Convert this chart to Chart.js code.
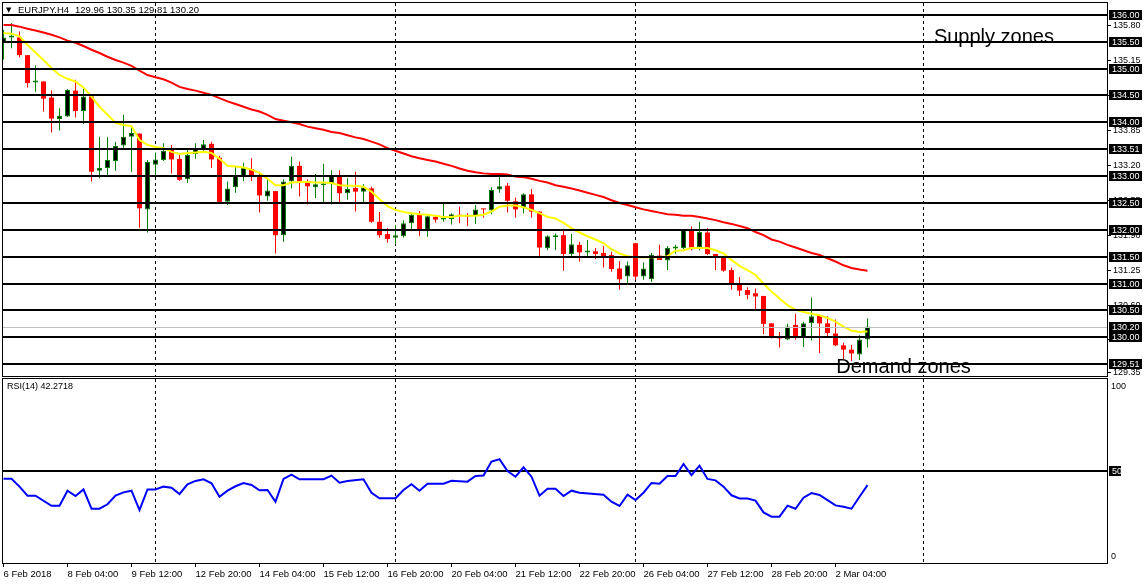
<!DOCTYPE html>
<html><head><meta charset="utf-8">
<script src="https://cdn.jsdelivr.net/npm/chart.js@4.4.1/dist/chart.umd.min.js"></script>
<style>
html,body{margin:0;padding:0;background:#fff;overflow:hidden;}
#wrap{position:relative;width:1147px;height:585px;background:#fff;}
#main{position:absolute;left:0;top:0;}
#rsi{position:absolute;left:0;top:378px;}
</style></head><body>
<div id="wrap"><canvas id="main" width="1147" height="378"></canvas><canvas id="rsi" width="1147" height="207"></canvas></div>
<script>
// ---- data (H4 bars, first bar = 6 Feb 2018 20:00) ----
const opens = [
135.48,135.58,135.58,135.25,134.74,134.76,134.46,134.06,134.11,134.59,
134.21,134.48,133.10,133.15,133.28,133.57,133.73,133.79,132.38,133.21,
133.30,133.49,133.32,132.94,133.41,133.50,133.60,133.34,132.52,132.79,
132.98,133.13,133.00,132.62,132.72,131.90,132.90,133.19,132.90,132.79,
132.83,132.85,133.01,132.68,132.78,132.71,132.77,132.15,131.92,131.85,
131.88,132.12,132.29,132.00,132.24,132.19,132.20,132.27,132.27,132.25,
132.39,132.36,132.75,132.82,132.53,132.40,132.66,132.34,131.66,131.86,
131.90,131.55,131.72,131.58,131.60,131.57,131.53,131.28,131.13,131.75,
131.13,131.08,131.52,131.43,131.65,131.66,132.01,131.67,131.95,131.55,
131.49,131.25,130.99,130.88,130.82,130.77,130.26,130.02,129.96,130.23,
129.99,130.26,130.40,130.26,130.07,129.85,129.77,129.68,129.96];
const highs = [
135.72,135.85,135.69,135.25,135.06,134.76,134.59,134.26,134.62,134.79,
134.62,134.48,133.73,133.72,133.64,134.14,133.92,133.79,133.30,133.44,
133.61,133.58,133.39,133.50,133.61,133.67,133.64,133.38,132.90,133.18,
133.25,133.33,133.07,132.94,132.72,132.94,133.36,133.27,132.94,133.04,
133.23,133.11,133.11,132.96,133.08,132.85,132.80,132.33,132.03,132.09,
132.18,132.33,132.35,132.28,132.28,132.48,132.31,132.43,132.31,132.46,
132.39,132.79,133.04,132.87,132.60,132.68,132.76,132.34,131.90,131.93,
131.99,131.92,131.78,131.81,131.66,131.70,131.59,131.42,131.41,131.76,
131.39,131.57,131.72,131.70,131.72,132.01,132.06,132.15,132.03,131.55,
131.51,131.30,131.12,130.93,130.91,130.77,130.26,130.10,130.25,130.44,
130.29,130.74,130.41,130.39,130.33,129.90,129.86,130.04,130.35];
const lows = [
135.17,135.38,135.21,134.65,134.57,134.20,133.81,133.85,134.10,134.09,
133.97,132.90,132.96,132.99,133.10,133.49,133.08,132.04,131.95,132.99,
133.28,133.05,132.91,132.87,133.32,133.44,133.15,132.49,132.46,132.69,
132.91,132.91,132.32,132.54,131.56,131.78,132.77,132.62,132.47,132.59,
132.51,132.47,132.51,132.56,132.34,132.51,132.13,131.85,131.76,131.74,
131.85,132.00,131.88,131.87,132.13,132.15,132.10,132.12,132.07,132.11,
132.23,132.29,132.69,132.32,132.23,132.31,132.23,131.51,131.62,131.62,
131.24,131.51,131.41,131.49,131.45,131.30,131.22,130.89,130.99,131.07,
131.07,131.03,131.44,131.25,131.56,131.64,131.62,131.62,131.53,131.25,
131.22,130.89,130.77,130.71,130.52,130.06,129.98,129.81,129.95,129.96,
129.82,129.94,129.71,130.02,129.84,129.59,129.56,129.58,129.81];
const closes = [
135.58,135.59,135.25,134.73,134.75,134.44,134.07,134.12,134.60,134.21,
134.48,133.08,133.15,133.30,133.56,133.73,133.80,132.40,133.26,133.31,
133.47,133.31,132.93,133.39,133.51,133.59,133.31,132.52,132.77,133.00,
133.15,132.99,132.64,132.73,131.90,132.90,133.19,132.90,132.81,132.85,
132.84,133.00,132.68,132.76,132.71,132.79,132.15,131.90,131.83,131.90,
132.12,132.28,132.00,132.25,132.19,132.23,132.29,132.26,132.25,132.38,
132.38,132.74,132.81,132.54,132.38,132.66,132.34,131.67,131.88,131.90,
131.55,131.73,131.58,131.59,131.55,131.51,131.27,131.08,131.34,131.13,
131.28,131.54,131.44,131.66,131.66,132.00,131.67,131.96,131.55,131.49,
131.24,130.99,130.87,130.79,130.76,130.25,130.00,129.98,130.20,129.99,
130.26,130.39,130.26,130.08,129.85,129.77,129.70,129.96,130.20];
const maFast = [ // yellow
135.66,135.65,135.60,135.44,135.30,135.16,135.01,134.88,134.81,134.76,
134.65,134.48,134.29,134.14,133.99,133.95,133.93,133.67,133.58,133.54,
133.52,133.45,133.41,133.43,133.44,133.45,133.43,133.32,133.19,133.18,
133.16,133.12,133.06,132.95,132.83,132.83,132.88,132.89,132.89,132.88,
132.88,132.87,132.83,132.82,132.82,132.80,132.71,132.57,132.44,132.37,
132.33,132.31,132.29,132.28,132.26,132.24,132.24,132.26,132.26,132.26,
132.28,132.34,132.43,132.45,132.45,132.42,132.37,132.31,132.24,132.21,
132.13,132.03,131.95,131.88,131.82,131.75,131.64,131.56,131.51,131.49,
131.49,131.49,131.49,131.51,131.61,131.62,131.66,131.66,131.66,131.62,
131.56,131.44,131.33,131.25,131.16,131.00,130.85,130.72,130.60,130.51,
130.47,130.44,130.41,130.36,130.29,130.20,130.12,130.10,130.11];
const maSlow = [ // red
135.81,135.81,135.78,135.74,135.71,135.67,135.63,135.58,135.52,135.48,
135.42,135.35,135.29,135.22,135.16,135.11,135.05,134.96,134.88,134.84,
134.80,134.74,134.66,134.62,134.59,134.55,134.51,134.45,134.39,134.34,
134.29,134.24,134.20,134.14,134.06,134.03,134.00,133.97,133.92,133.89,
133.86,133.82,133.80,133.76,133.72,133.69,133.64,133.59,133.52,133.47,
133.42,133.37,133.33,133.30,133.27,133.23,133.19,133.14,133.10,133.07,
133.05,133.04,133.04,133.03,132.99,132.98,132.95,132.91,132.88,132.83,
132.80,132.77,132.73,132.69,132.65,132.61,132.55,132.50,132.46,132.42,
132.38,132.35,132.32,132.29,132.28,132.26,132.26,132.24,132.21,132.18,
132.14,132.11,132.07,132.03,131.96,131.90,131.82,131.78,131.72,131.67,
131.62,131.57,131.53,131.47,131.41,131.34,131.29,131.26,131.24];
const rsiBars = [0,1,2,3,4,6,7,8,9,10,11,12,13,14,15,16,17,18,19,20,21,22,23,24,25,26,27,28,29,30,31,32,33,34,35,36,37,40,41,42,43,45,46,47,49,50,51,52,53,55,56,58,59,60,61,62,63,64,65,66,67,68,69,70,71,72,75,76,77,78,79,80,81,82,83,84,85,86,87,88,89,90,91,92,93,94,95,96,97,98,99,100,101,102,103,104,105,106,107,108];
const rsiValues = [45.8,45.8,41.5,36.6,36.6,31.1,31.1,39.3,36.4,40.0,29.5,29.5,31.9,36.6,38.4,39.3,28.8,40.0,40.0,41.5,40.9,37.5,42.8,44.6,45.5,43.3,36.0,39.3,41.7,43.5,42.4,39.5,39.7,33.3,45.7,48.0,45.5,45.5,47.5,43.6,44.6,45.5,38.2,35.2,35.2,39.7,42.8,39.3,43.1,43.1,44.7,44.2,47.3,47.5,55.1,56.4,50.0,46.9,52.0,46.9,36.6,40.4,40.4,36.4,39.3,38.2,37.1,33.3,31.0,37.1,34.2,38.2,43.5,43.1,47.3,47.3,53.8,47.8,52.9,45.7,44.9,41.5,36.8,35.1,35.1,33.9,27.5,25.2,25.2,31.2,29.5,35.5,38.0,37.0,34.2,31.3,30.6,29.5,36.0,42.3];
const levelPrices = [136.00,135.50,135.00,134.50,134.00,133.51,133.00,132.50,132.00,131.50,131.00,130.50,130.00,129.51];
const bidPrice = 130.20;
const priceTicks = [135.80,135.15,134.50,133.85,133.20,132.55,131.90,131.25,130.60,129.95,129.35];
const timeTickBars = [0,8,16,24,32,40,48,56,64,72,80,88,96,104];
const timeTickLabels = ['6 Feb 2018','8 Feb 04:00','9 Feb 12:00','12 Feb 20:00','14 Feb 04:00','15 Feb 12:00','16 Feb 20:00','20 Feb 04:00','21 Feb 12:00','22 Feb 20:00','26 Feb 04:00','27 Feb 12:00','28 Feb 20:00','2 Mar 04:00'];
const weekSeparatorBars = [19,49,79,115];
const symbolText = 'EURJPY.H4';
const ohlcText = '129.96 130.35 129.81 130.20';
const rsiTitle = 'RSI(14) 42.2718';
const rsiLevel = 50;
const zoneTexts = [{text:'Supply zones', bar:116.3, price:135.48}, {text:'Demand zones', bar:104.1, price:129.33}];

// ---- chart setup ----
const X_MIN = -0.0625, X_MAX = 138.0625;
const GREEN = '#008000', RED = '#ff0000';
const FONT = '"Liberation Sans", Arial, sans-serif';
Chart.defaults.font.family = FONT;
const idx = opens.map((_, i) => i);
const isUp = i => closes[i] >= opens[i];
const rangePts = (sel, a, b) => idx.filter(sel).map(i => ({x: i, y: [a[i], b[i]]}));
const linePts = arr => arr.map((v, i) => ({x: i, y: v}));

function dashedSeparators(chart) {
  const {ctx, chartArea: a, scales: {x}} = chart;
  ctx.save();
  ctx.beginPath();
  ctx.rect(a.left, a.top, a.right - a.left, a.bottom - a.top);
  ctx.clip();
  ctx.strokeStyle = '#000'; ctx.lineWidth = 1; ctx.setLineDash([3, 3]);
  weekSeparatorBars.forEach(b => {
    const px = Math.floor(x.getPixelForValue(b)) + 0.5;
    ctx.beginPath(); ctx.moveTo(px, a.top); ctx.lineTo(px, a.bottom); ctx.stroke();
  });
  ctx.restore();
}
function frame(chart) {
  const {ctx, chartArea: a} = chart;
  ctx.save();
  ctx.strokeStyle = '#000'; ctx.lineWidth = 1;
  ctx.strokeRect(a.left - 0.5, a.top - 0.5, a.right - a.left, a.bottom - a.top + 1);
  ctx.restore();
}
function priceBox(ctx, a, y, label, w) {
  ctx.fillStyle = '#000';
  ctx.fillRect(a.right + 1, y - 5, w, 10);
  ctx.fillStyle = '#fff';
  ctx.font = '9px ' + FONT;
  ctx.textAlign = 'left'; ctx.textBaseline = 'middle';
  ctx.fillText(label, a.right + 4, y + 0.5);
}

const mainDecor = {
  id: 'mainDecor',
  beforeDatasetsDraw(chart) { dashedSeparators(chart); },
  afterDatasetsDraw(chart) {
    const {ctx, chartArea: a, scales: {x, y}} = chart;
    ctx.save();
    ctx.fillStyle = '#c0c0c0';
    ctx.fillRect(a.left, Math.round(y.getPixelForValue(bidPrice)), a.right - a.left, 1);
    ctx.fillStyle = '#000';
    levelPrices.forEach(p => {
      const py = Math.round(y.getPixelForValue(p));
      ctx.fillRect(a.left, py - 1, a.right - a.left, 2);
    });
    ctx.font = '20px ' + FONT;
    ctx.textAlign = 'left'; ctx.textBaseline = 'alphabetic';
    zoneTexts.forEach(t => ctx.fillText(t.text, x.getPixelForValue(t.bar), y.getPixelForValue(t.price)));
    ctx.restore();
  },
  afterDraw(chart) {
    const {ctx, chartArea: a, scales: {y}} = chart;
    frame(chart);
    ctx.save();
    levelPrices.forEach(p => priceBox(ctx, a, Math.round(y.getPixelForValue(p)), p.toFixed(2), 33));
    priceBox(ctx, a, Math.round(y.getPixelForValue(bidPrice)), bidPrice.toFixed(2), 33);
    ctx.fillStyle = '#000';
    ctx.textBaseline = 'middle'; ctx.textAlign = 'left';
    ctx.font = '7px "DejaVu Sans", sans-serif';
    ctx.fillText('\u25BC', 6, 10.5);
    ctx.font = '9.5px ' + FONT;
    ctx.fillText(symbolText, 18, 10.5);
    ctx.fillText(ohlcText, 75, 10.5);
    ctx.restore();
  }
};

new Chart(document.getElementById('main'), {
  type: 'bar',
  data: {
    datasets: [
      {type: 'line', data: linePts(maFast), borderColor: '#ffff00', borderWidth: 2, pointRadius: 0, tension: 0, order: 1},
      {type: 'line', data: linePts(maSlow), borderColor: '#ff0000', borderWidth: 2, pointRadius: 0, tension: 0, order: 1},
      {type: 'bar', data: rangePts(isUp, opens, closes), backgroundColor: '#000', borderColor: GREEN, borderWidth: 1, borderSkipped: false, barThickness: 5, minBarLength: 2, grouped: false, inflateAmount: 0, order: 2},
      {type: 'bar', data: rangePts(i => !isUp(i), opens, closes), backgroundColor: RED, borderWidth: 0, barThickness: 5, minBarLength: 1, grouped: false, inflateAmount: 0, order: 2},
      {type: 'bar', data: rangePts(isUp, lows, highs), backgroundColor: GREEN, borderWidth: 0, barThickness: 1, grouped: false, inflateAmount: 0, order: 3},
      {type: 'bar', data: rangePts(i => !isUp(i), lows, highs), backgroundColor: RED, borderWidth: 0, barThickness: 1, grouped: false, inflateAmount: 0, order: 3}
    ]
  },
  options: {
    responsive: false, animation: false, devicePixelRatio: 1, events: [],
    layout: {padding: {left: 3, top: 3, right: 0, bottom: 2}},
    plugins: {legend: {display: false}, tooltip: {enabled: false}},
    scales: {
      x: {type: 'linear', min: X_MIN, max: X_MAX, offset: false, display: false},
      y: {
        type: 'linear', position: 'right', min: 129.28, max: 136.22,
        afterFit: s => { s.width = 39; s.paddingTop = 0; s.paddingBottom = 0; },
        afterBuildTicks: s => { s.ticks = priceTicks.map(v => ({value: v})); },
        ticks: {callback: v => Number(v).toFixed(2), color: '#000', font: {size: 9}, padding: 2, autoSkip: false},
        grid: {drawOnChartArea: false, drawTicks: true, tickLength: 3, color: '#000'},
        border: {display: false}
      }
    }
  },
  plugins: [mainDecor]
});

const rsiDecor = {
  id: 'rsiDecor',
  beforeDatasetsDraw(chart) {
    dashedSeparators(chart);
    const {ctx, chartArea: a, scales: {y}} = chart;
    ctx.save();
    ctx.fillStyle = '#000';
    const py = Math.round(y.getPixelForValue(rsiLevel));
    ctx.fillRect(a.left, py - 1, a.right - a.left, 2);
    ctx.restore();
  },
  afterDraw(chart) {
    const {ctx, chartArea: a, scales: {y}} = chart;
    frame(chart);
    ctx.save();
    priceBox(ctx, a, Math.round(y.getPixelForValue(rsiLevel)), String(rsiLevel), 12);
    ctx.fillStyle = '#000';
    ctx.font = '9px ' + FONT;
    ctx.textAlign = 'left'; ctx.textBaseline = 'top';
    ctx.fillText('100', a.right + 3, y.getPixelForValue(100) + 3);
    ctx.textBaseline = 'bottom';
    ctx.fillText('0', a.right + 3, y.getPixelForValue(0) - 2);
    ctx.textBaseline = 'middle';
    ctx.font = '9px ' + FONT;
    ctx.fillText(rsiTitle, 7, a.top + 8);
    ctx.restore();
  }
};

new Chart(document.getElementById('rsi'), {
  type: 'line',
  data: {datasets: [{data: rsiBars.map((b, k) => ({x: b, y: rsiValues[k]})), borderColor: '#0000ff', borderWidth: 2, pointRadius: 0, tension: 0}]},
  options: {
    responsive: false, animation: false, devicePixelRatio: 1, events: [],
    layout: {padding: {left: 3, top: 1, right: 0, bottom: 0}},
    plugins: {legend: {display: false}, tooltip: {enabled: false}},
    scales: {
      x: {
        type: 'linear', min: X_MIN, max: X_MAX, offset: false, position: 'bottom',
        afterFit: s => { s.height = 22; s.paddingLeft = 0; s.paddingRight = 0; },
        afterBuildTicks: s => { s.ticks = timeTickBars.map(v => ({value: v})); },
        ticks: {autoSkip: false, maxRotation: 0, minRotation: 0, align: 'start', padding: 2, color: '#000', font: {size: 9.5},
                callback: v => timeTickLabels[timeTickBars.indexOf(v)]},
        grid: {drawOnChartArea: false, drawTicks: true, tickLength: 4, color: '#000'},
        border: {display: false}
      },
      y: {type: 'linear', position: 'right', min: 0, max: 100, afterFit: s => { s.width = 39; s.paddingTop = 0; s.paddingBottom = 0; },
          ticks: {display: false}, grid: {display: false}, border: {display: false}}
    }
  },
  plugins: [rsiDecor]
});
</script>
</body></html>
